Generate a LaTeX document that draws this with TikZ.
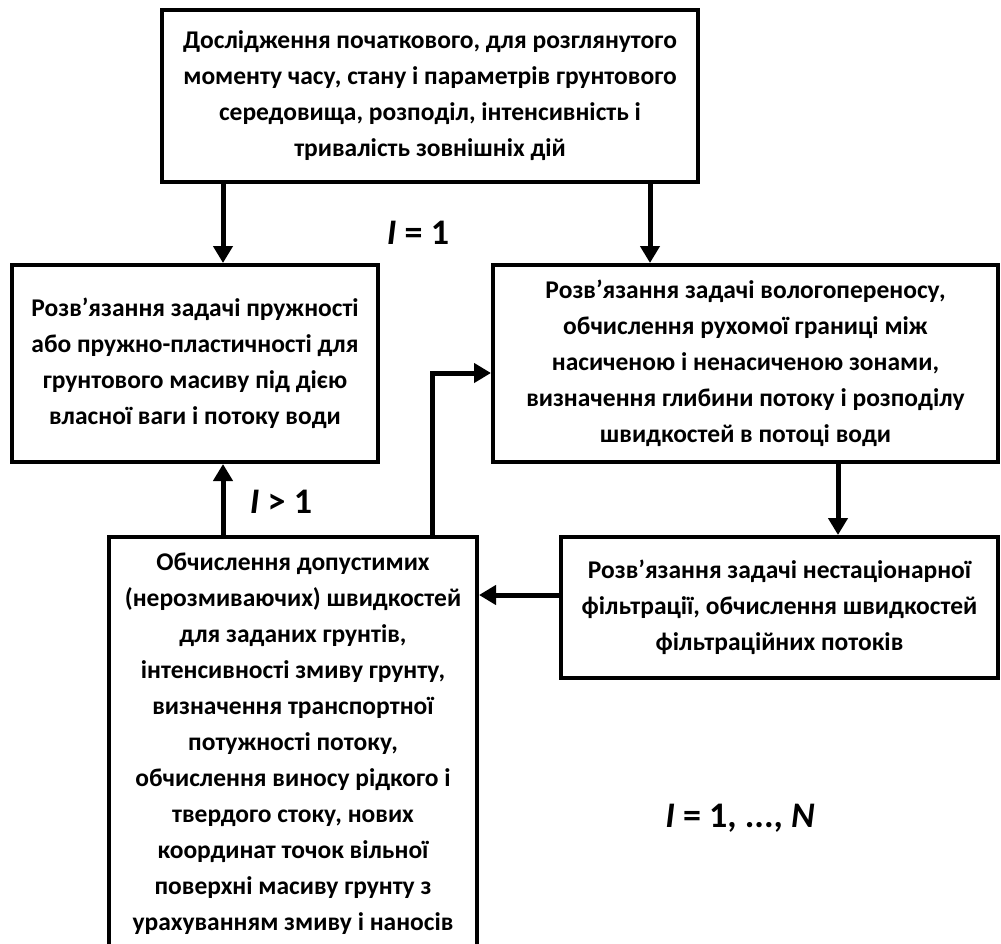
\documentclass[tikz,border=0pt]{standalone}
\usepackage{fontspec}
\setmainfont{Carlito}
\usetikzlibrary{arrows.meta}

\tikzset{
  blok/.style={draw, line width=4pt, align=center, inner sep=0pt,
    font=\bfseries\fontsize{25.5}{36}\selectfont},
  arr/.style={line width=5pt, -{Triangle[length=17pt,width=19pt]}},
  lbl/.style={font=\bfseries\fontsize{36}{40}\selectfont}
}

\begin{document}
\begin{tikzpicture}[x=1pt, y=-1pt]
    \useasboundingbox (0,0) rectangle (1001,944);

    % Blocks of the scheme
    \node[blok, minimum width=536pt, minimum height=172pt] (init) at (430,96)
      {Дослідження початкового, для розглянутого\\моменту часу, стану і параметрів грунтового\\середовища, розподіл, інтенсивність і\\тривалість зовнішніх дій};
    \node[blok, minimum width=366pt, minimum height=197pt] (elast) at (195,363.5)
      {Розв’язання задачі пружності\\або пружно-пластичності для\\грунтового масиву під дією\\власної ваги і потоку води};
    \node[blok, minimum width=505pt, minimum height=197pt] (moist) at (745.5,363.5)
      {Розв’язання задачі вологопереносу,\\обчислення рухомої границі між\\насиченою і ненасиченою зонами,\\визначення глибини потоку і розподілу\\швидкостей в потоці води};
    \node[blok, minimum width=437pt, minimum height=141pt] (filtr) at (779.5,607.5)
      {Розв’язання задачі нестаціонарної\\фільтрації, обчислення швидкостей\\фільтраційних потоків};
    \node[blok, minimum width=368pt, minimum height=414pt] (eros) at (293,744)
      {Обчислення допустимих\\(нерозмиваючих) швидкостей\\для заданих грунтів,\\інтенсивності змиву грунту,\\визначення транспортної\\потужності потоку,\\обчислення виносу рідкого і\\твердого стоку, нових\\координат точок вільної\\поверхні масиву грунту з\\урахуванням змиву і наносів};

    % Where the connectors run
    \coordinate (x1) at (223,0);
    \coordinate (x2) at (650,0);
    \coordinate (x3) at (838,0);
    \coordinate (y4) at (0,595);
    \coordinate (back) at (432,373); % loop back to moisture block

    % Connectors
    \draw[arr] (x1 |- init.south) -- (x1 |- elast.north);
    \draw[arr] (x2 |- init.south) -- (x2 |- moist.north);
    \draw[arr] (x3 |- moist.south) -- (x3 |- filtr.north);
    \draw[arr] (y4 -| filtr.west) -- (y4 -| eros.east);
    \draw[arr] (x1 |- eros.north) -- (x1 |- elast.south);
    \draw[arr] (back |- eros.north) |- (back -| moist.west);

    % Step labels
    \node[lbl] (first) at (418,233) {\textit{I} = 1};
    \node[lbl] (next) at (281,502) {\textit{I} > 1};
    \node[lbl] (range) at (740,818) {\textit{I} = 1, ..., \textit{N}};
\end{tikzpicture}
\end{document}
